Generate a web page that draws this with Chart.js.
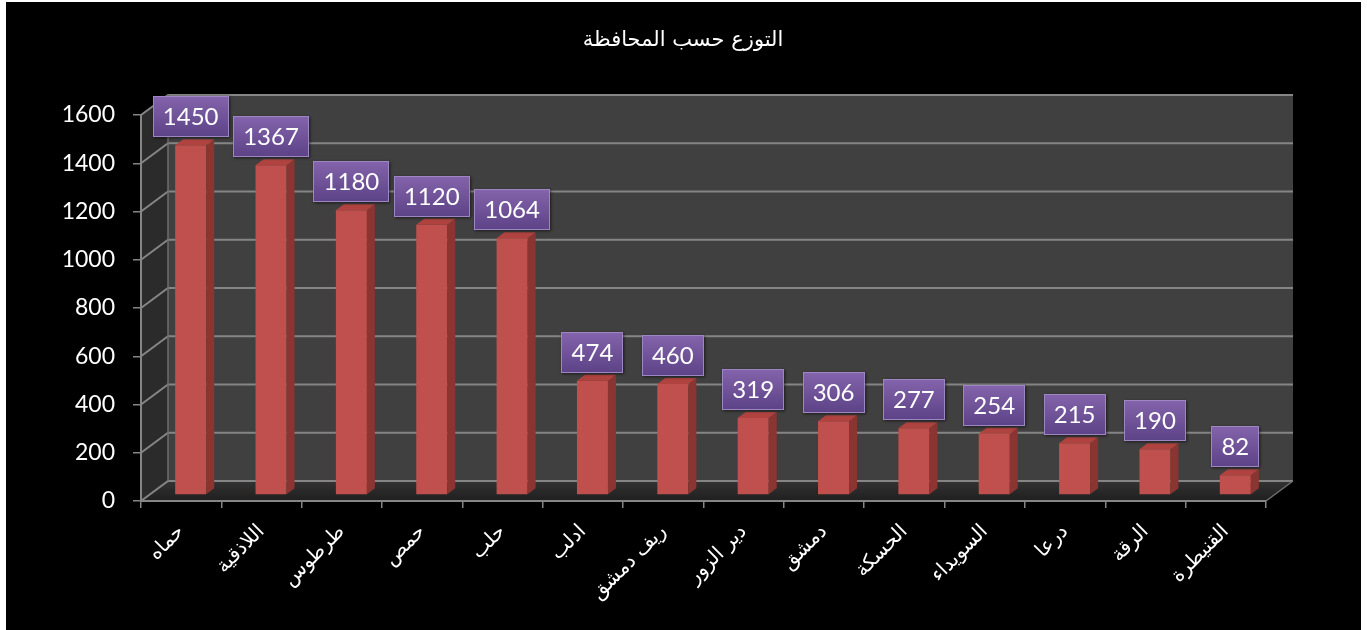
<!DOCTYPE html>
<html>
<head>
<meta charset="utf-8">
<script src="https://cdn.jsdelivr.net/npm/chart.js@4.4.1/dist/chart.umd.min.js"></script>
<style>
html,body{margin:0;padding:0;background:#fff;}
#wrap{position:absolute;left:0;top:0;width:1367px;height:630px;}
</style>
</head>
<body>
<div id="wrap"><canvas id="c" width="1367" height="630"></canvas></div>
<script>
const titleText = 'التوزع حسب المحافظة';
const categories = ['حماه','اللاذقية','طرطوس','حمص','حلب','ادلب','ريف دمشق','دير الزور','دمشق','الحسكة','السويداء','درعا','الرقة','القنيطرة'];
const values = [1450,1367,1180,1120,1064,474,460,319,306,277,254,215,190,82];
const yTickValues = [0,200,400,600,800,1000,1200,1400,1600];

const wallDepth = {dx: 27, dy: -20};
const barShift = {dx: 9.5, dy: -6};
const barDepth = {dx: 8, dy: -6};

const threeD = {
  id: 'threeD',
  beforeDraw(chart) {
    const ctx = chart.ctx;
    const a = chart.chartArea;
    const ys = chart.scales.y;
    ctx.save();
    ctx.fillStyle = '#ffffff';
    ctx.fillRect(0, 0, chart.width, chart.height);
    ctx.fillStyle = '#000000';
    ctx.fillRect(6, 2, 1355, 628);
    const dx = wallDepth.dx, dy = wallDepth.dy;
    ctx.fillStyle = '#2b2b2b';
    ctx.beginPath();
    ctx.moveTo(a.left, a.top);
    ctx.lineTo(a.left + dx, a.top + dy);
    ctx.lineTo(a.left + dx, a.bottom + dy);
    ctx.lineTo(a.left, a.bottom);
    ctx.closePath();
    ctx.fill();
    ctx.fillStyle = '#404040';
    ctx.fillRect(a.left + dx, a.top + dy, a.right - a.left, a.bottom - a.top);
    const g = ctx.createLinearGradient(0, a.bottom + dy, 0, a.bottom);
    g.addColorStop(0, '#333333');
    g.addColorStop(1, '#1f1f1f');
    ctx.fillStyle = g;
    ctx.beginPath();
    ctx.moveTo(a.left, a.bottom);
    ctx.lineTo(a.left + dx, a.bottom + dy);
    ctx.lineTo(a.right + dx, a.bottom + dy);
    ctx.lineTo(a.right, a.bottom);
    ctx.closePath();
    ctx.fill();
    ctx.strokeStyle = '#858585';
    ctx.lineWidth = 2;
    yTickValues.forEach(v => {
      const y = ys.getPixelForValue(v);
      ctx.beginPath();
      ctx.moveTo(a.left, y);
      ctx.lineTo(a.left + dx, y + dy);
      ctx.lineTo(a.right + dx, y + dy);
      ctx.stroke();
    });
    ctx.lineWidth = 1.5;
    ctx.strokeStyle = '#6e6e6e';
    ctx.beginPath();
    ctx.moveTo(a.left + dx, a.top + dy);
    ctx.lineTo(a.left + dx, a.bottom + dy);
    ctx.moveTo(a.right, a.bottom);
    ctx.lineTo(a.right + dx, a.bottom + dy);
    ctx.stroke();
    ctx.restore();
  },
  beforeDatasetsDraw(chart) {
    chart.ctx.save();
    chart.ctx.translate(barShift.dx, barShift.dy);
  },
  afterDatasetsDraw(chart) {
    const ctx = chart.ctx;
    ctx.restore();
    const meta = chart.getDatasetMeta(0);
    ctx.save();
    meta.data.forEach((el, i) => {
      const p = el.getProps(['x', 'y', 'base', 'width'], true);
      const l = p.x - p.width / 2 + barShift.dx;
      const r = p.x + p.width / 2 + barShift.dx;
      const t = p.y + barShift.dy;
      const b = p.base + barShift.dy;
      ctx.fillStyle = '#8a3532';
      ctx.beginPath();
      ctx.moveTo(r, t);
      ctx.lineTo(r + barDepth.dx, t + barDepth.dy);
      ctx.lineTo(r + barDepth.dx, b + barDepth.dy);
      ctx.lineTo(r, b);
      ctx.closePath();
      ctx.fill();
      ctx.fillStyle = '#b0433f';
      ctx.beginPath();
      ctx.moveTo(l, t);
      ctx.lineTo(l + barDepth.dx, t + barDepth.dy);
      ctx.lineTo(r + barDepth.dx, t + barDepth.dy);
      ctx.lineTo(r, t);
      ctx.closePath();
      ctx.fill();
    });
    ctx.font = '24px Lato';
    ctx.textAlign = 'center';
    ctx.textBaseline = 'middle';
    meta.data.forEach((el, i) => {
      const p = el.getProps(['x', 'y'], true);
      const cx = p.x + barShift.dx;
      const t = p.y + barShift.dy;
      const txt = String(values[i]);
      const w = Math.round(ctx.measureText(txt).width + 20);
      const h = 41;
      const bx = Math.round(cx - w / 2), by = Math.round(t - 8 - h);
      ctx.shadowColor = 'rgba(0,0,0,0.6)';
      ctx.shadowBlur = 3;
      ctx.shadowOffsetX = 1;
      ctx.shadowOffsetY = 1;
      const gr = ctx.createLinearGradient(0, by, 0, by + h);
      gr.addColorStop(0, '#8464ac');
      gr.addColorStop(1, '#5c4286');
      ctx.fillStyle = gr;
      ctx.fillRect(bx, by, w, h);
      ctx.shadowColor = 'transparent';
      ctx.strokeStyle = '#9d86c2';
      ctx.lineWidth = 1;
      ctx.strokeRect(bx + 0.5, by + 0.5, w - 1, h - 1);
      ctx.fillStyle = '#ffffff';
      ctx.fillText(txt, cx, by + h / 2 + 1);
    });
    ctx.restore();
  },
  afterDraw(chart) {
    const ctx = chart.ctx;
    ctx.save();
    ctx.fillStyle = '#ffffff';
    ctx.font = '21px "DejaVu Sans"';
    ctx.textAlign = 'center';
    ctx.textBaseline = 'middle';
    ctx.fillText(titleText, 683, 41);
    ctx.restore();
  }
};

new Chart(document.getElementById('c'), {
  type: 'bar',
  data: {
    labels: categories,
    datasets: [{
      data: values,
      backgroundColor: '#c0504d',
      borderWidth: 0,
      barPercentage: 0.386,
      categoryPercentage: 1
    }]
  },
  options: {
    responsive: false,
    animation: false,
    events: [],
    layout: { padding: { left: 0, right: 101, top: 115, bottom: 0 } },
    plugins: { legend: { display: false }, title: { display: false }, tooltip: { enabled: false } },
    scales: {
      x: {
        afterFit(s) { s.height = 129; },
        grid: { display: true, drawOnChartArea: false, drawTicks: true, tickLength: 7, color: '#858585', lineWidth: 1.5, offset: true },
        border: { display: true, color: '#858585', width: 2 },
        ticks: { color: '#ffffff', font: { family: 'DejaVu Sans', size: 20 }, minRotation: 45, maxRotation: 45, autoSkip: false, padding: 12 }
      },
      y: {
        min: 0, max: 1600,
        afterFit(s) { s.width = 141; },
        afterBuildTicks(s) { s.ticks = yTickValues.map(v => ({ value: v })); },
        grid: { display: true, drawOnChartArea: false, drawTicks: true, tickLength: 8, color: '#858585', lineWidth: 1.5 },
        border: { display: true, color: '#858585', width: 2 },
        ticks: { color: '#ffffff', font: { family: 'Lato', size: 23 }, padding: 18, callback: (v) => String(v) }
      }
    }
  },
  plugins: [threeD]
});
</script>
</body>
</html>
